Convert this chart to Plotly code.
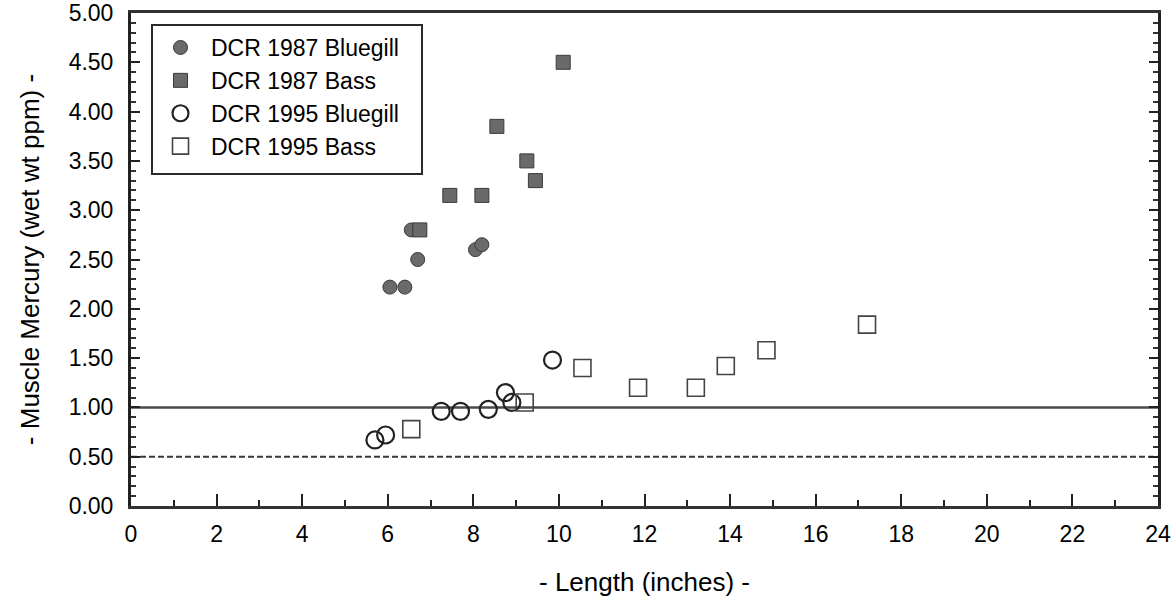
import plotly.graph_objects as go

# ---- data ----
bg87_len = [6.05, 6.4, 6.55, 6.7, 8.05, 8.2]
bg87_hg = [2.22, 2.22, 2.80, 2.50, 2.60, 2.65]

bass87_len = [6.75, 7.45, 8.2, 8.55, 9.25, 9.45, 10.1]
bass87_hg = [2.80, 3.15, 3.15, 3.85, 3.50, 3.30, 4.50]

bg95_len = [5.7, 5.95, 7.25, 7.7, 8.35, 8.75, 8.9, 9.85]
bg95_hg = [0.67, 0.72, 0.96, 0.96, 0.98, 1.15, 1.05, 1.48]

bass95_len = [6.55, 9.2, 10.55, 11.85, 13.2, 13.9, 14.85, 17.2]
bass95_hg = [0.78, 1.05, 1.40, 1.20, 1.20, 1.42, 1.58, 1.84]

ref_x = [0, 24]
action_level = [1.0, 1.0]
advisory_level = [0.5, 0.5]

x_ticks = list(range(0, 25, 2))
y_ticks = [0, 0.5, 1, 1.5, 2, 2.5, 3, 3.5, 4, 4.5, 5]
y_labels = ["%.2f" % v for v in y_ticks]

FONT = "Liberation Sans, Arial, Helvetica, sans-serif"

W, H = 1175, 600
ML, MR, MT, MB = 131, 17, 13, 94
PW, PH = W - ML - MR, H - MT - MB


def px_to_paper_x(px):
    return (px - ML) / PW


def px_to_paper_y(py):
    return (H - MB - py) / PH


fig = go.Figure()

fig.add_trace(go.Scatter(x=ref_x, y=action_level, mode="lines",
                         line=dict(color="#4a4a4a", width=2.5),
                         showlegend=False, hoverinfo="skip"))
fig.add_trace(go.Scatter(x=ref_x, y=advisory_level, mode="lines",
                         line=dict(color="#3a3a3a", width=2, dash="6px,3px"),
                         showlegend=False, hoverinfo="skip"))

fig.add_trace(go.Scatter(x=bg87_len, y=bg87_hg, mode="markers", name="DCR 1987 Bluegill",
                         marker=dict(symbol="circle", size=14, color="#6a6a6a",
                                     line=dict(color="#3a3a3a", width=1))))
fig.add_trace(go.Scatter(x=bass87_len, y=bass87_hg, mode="markers", name="DCR 1987 Bass",
                         marker=dict(symbol="square", size=14, color="#6a6a6a",
                                     line=dict(color="#3a3a3a", width=1))))
fig.add_trace(go.Scatter(x=bg95_len, y=bg95_hg, mode="markers", name="DCR 1995 Bluegill",
                         marker=dict(symbol="circle-open", size=17, color="#222222",
                                     line=dict(color="#222222", width=2.2))))
fig.add_trace(go.Scatter(x=bass95_len, y=bass95_hg, mode="markers", name="DCR 1995 Bass",
                         marker=dict(symbol="square-open", size=17, color="#444444",
                                     line=dict(color="#444444", width=1.6))))

fig.update_layout(
    width=W, height=H,
    margin=dict(l=ML, r=MR, t=MT, b=MB, pad=0, autoexpand=False),
    paper_bgcolor="white", plot_bgcolor="white",
    font=dict(family=FONT, color="black", size=23),
    showlegend=True,
    legend=dict(
        x=px_to_paper_x(150), y=px_to_paper_y(26), xanchor="left", yanchor="top",
        bgcolor="rgba(0,0,0,0)", borderwidth=0,
        font=dict(family=FONT, size=23, color="black"),
        itemwidth=51, tracegroupgap=0,
    ),
    shapes=[dict(type="rect", xref="paper", yref="paper",
                 x0=px_to_paper_x(152), x1=px_to_paper_x(422),
                 y0=px_to_paper_y(174), y1=px_to_paper_y(25),
                 line=dict(color="#2a2a2a", width=2), fillcolor="white", layer="below")],
    xaxis=dict(
        range=[0, 24], tickmode="array", tickvals=x_ticks,
        ticks="inside", ticklen=12, tickwidth=2, tickcolor="#222",
        minor=dict(dtick=1, ticks="inside", ticklen=6, tickwidth=2, tickcolor="#222"),
        showline=True, linecolor="#333", linewidth=2.5, mirror=True,
        showgrid=False, zeroline=False, automargin=False,
        tickfont=dict(size=23), ticklabelstandoff=6, ticklabeloverflow="allow",
        title=dict(text="- Length (inches) -", font=dict(size=26), standoff=27),
    ),
    yaxis=dict(
        range=[0, 5], tickmode="array", tickvals=y_ticks, ticktext=y_labels,
        ticks="inside", ticklen=9, tickwidth=2, tickcolor="#222",
        minor=dict(dtick=0.1, ticks="inside", ticklen=5, tickwidth=1.5, tickcolor="#333"),
        showline=True, linecolor="#222", linewidth=3, mirror="ticks",
        showgrid=False, zeroline=False, automargin=False,
        tickfont=dict(size=23), ticklabelstandoff=10, ticklabeloverflow="allow",
        title=dict(text="- Muscle Mercury (wet wt ppm) -", font=dict(size=26), standoff=22),
    ),
)

# remove the default 8px page margin so the figure fills the window exactly
fig.write_html("out.html", config={"displayModeBar": False},
               post_script="document.body.style.margin='0';")
